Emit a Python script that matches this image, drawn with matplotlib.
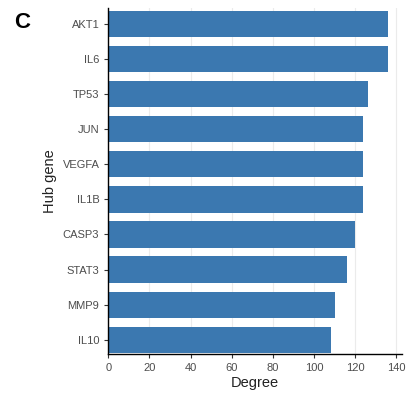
import matplotlib
matplotlib.use("Agg")
import matplotlib.pyplot as plt

# Hub genes and their degree (top of chart first)
genes = ["AKT1", "IL6", "TP53", "JUN", "VEGFA", "IL1B", "CASP3", "STAT3", "MMP9", "IL10"]
degree = [136, 136, 126, 124, 124, 124, 120, 116, 110, 108]
xticks = [0, 20, 40, 60, 80, 100, 120, 140]

plt.rcParams['font.family'] = ['Liberation Sans', 'DejaVu Sans']

fig = plt.figure(figsize=(4.12, 3.95), dpi=100)
ax = fig.add_axes([0.263, 0.104, 0.713, 0.876])

pos = list(range(len(genes)))[::-1]
ax.barh(pos, degree, height=0.75, color='#3B78B0', zorder=2)

ax.set_yticks(pos)
ax.set_yticklabels(genes)
ax.set_xticks(xticks)
ax.set_xlim(0, 142.8)
ax.set_ylim(-0.4, 9.45)

ax.grid(axis='x', color='#EBEBEB', linewidth=0.8, zorder=0)
for s in ['top', 'right']:
    ax.spines[s].set_visible(False)
for s in ['left', 'bottom']:
    ax.spines[s].set_color('black')
    ax.spines[s].set_linewidth(1.0)

ax.tick_params(axis='both', labelsize=8, labelcolor='#4D4D4D', color='#333333',
               length=3, width=0.8)
ax.set_xlabel('Degree', fontsize=10.5, color='#222222', labelpad=2)
ax.set_ylabel('Hub gene', fontsize=10.5, color='#222222', labelpad=4)

fig.text(0.035, 0.93, 'C', fontsize=16, fontweight='bold', color='black')

fig.savefig('out.png', dpi=100)
